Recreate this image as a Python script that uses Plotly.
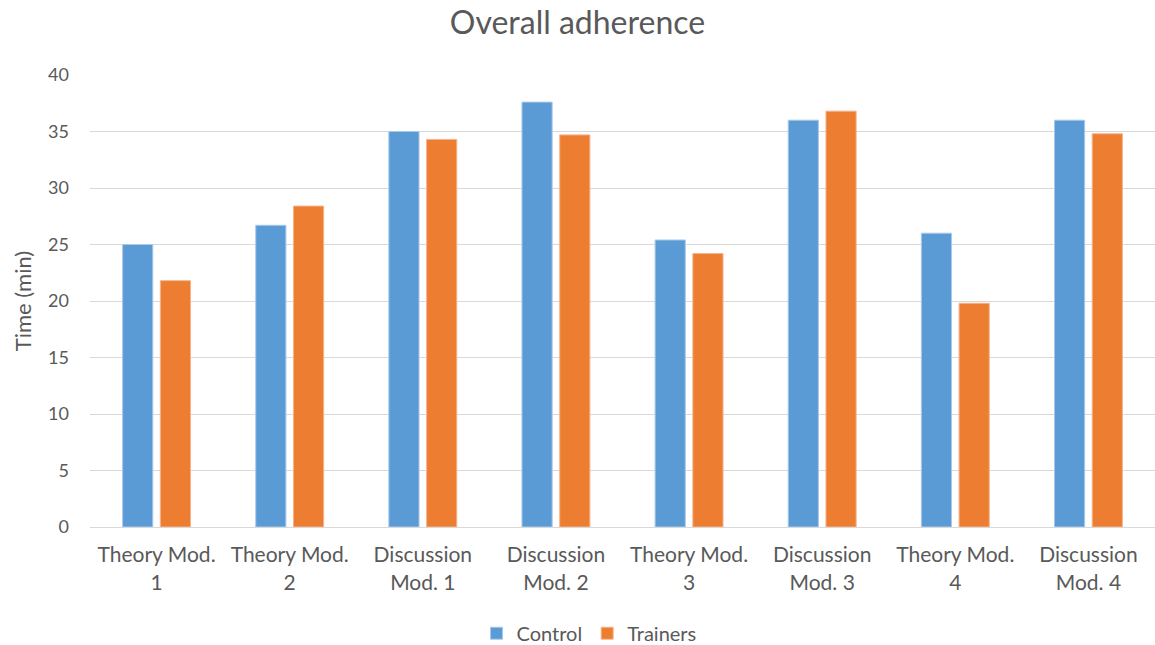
import plotly.graph_objects as go

# Module labels (line-broken as shown under each group)
categories = [
    "Theory Mod.<br>1", "Theory Mod.<br>2", "Discussion<br>Mod. 1", "Discussion<br>Mod. 2",
    "Theory Mod.<br>3", "Discussion<br>Mod. 3", "Theory Mod.<br>4", "Discussion<br>Mod. 4",
]
control = [25.0, 26.7, 35.0, 37.6, 25.4, 36.0, 26.0, 36.0]
trainers = [21.8, 28.4, 34.3, 34.7, 24.2, 36.8, 19.8, 34.8]
y_ticks = [0, 5, 10, 15, 20, 25, 30, 35, 40]

FONT = "Lato, Open Sans, sans-serif"
GREY = "#595959"

fig = go.Figure()
fig.add_trace(go.Bar(
    name="Control", x=categories, y=control,
    marker=dict(color="#5B9BD5", line=dict(color="#A9C9EA", width=1)),
))
fig.add_trace(go.Bar(
    name="Trainers", x=categories, y=trainers,
    marker=dict(color="#ED7D31", line=dict(color="#F5B48C", width=1)),
))

fig.update_layout(
    width=1155, height=645,
    paper_bgcolor="white", plot_bgcolor="white",
    barmode="group", bargap=0.433, bargroupgap=0.2,
    margin=dict(l=90, r=0, t=75, b=118, autoexpand=False),
    font=dict(family=FONT, size=20, color=GREY),
    title=dict(text="Overall adherence", x=0.5, xref="container", xanchor="center",
               y=0.965, yanchor="middle",
               font=dict(family=FONT, size=32, color=GREY)),
    yaxis=dict(
        range=[0, 40], tickvals=y_ticks, showgrid=True, gridcolor="#D9D9D9",
        gridwidth=1, zeroline=False, showline=False, ticks="", automargin=False,
        tickfont=dict(size=18, color=GREY), ticklabelstandoff=20,
        title=dict(text="Time (min)", font=dict(size=22, color=GREY), standoff=10),
    ),
    xaxis=dict(
        showline=True, linecolor="#D9D9D9", linewidth=1, ticks="", automargin=False,
        tickfont=dict(size=21, color=GREY), ticklabelstandoff=9,
    ),
    legend=dict(orientation="h", xref="container", x=0.51, xanchor="center",
                y=-0.235, yanchor="middle",
                font=dict(size=20, color=GREY), itemwidth=30, traceorder="normal"),
)

fig.write_html("out.html")
